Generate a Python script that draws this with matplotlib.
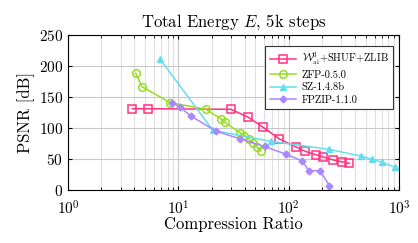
import matplotlib
matplotlib.use("Agg")
import matplotlib.pyplot as plt
from matplotlib.ticker import LogLocator, NullFormatter

plt.rcParams['font.family'] = 'serif'
plt.rcParams['font.serif'] = ['cmr10']
plt.rcParams['mathtext.fontset'] = 'cm'
plt.rcParams['axes.formatter.use_mathtext'] = True

# W_ai^3 + SHUF + ZLIB
w_cr = [3.83, 5.35, 29.9, 43.1, 58.6, 82.4, 116.7, 140.8, 176, 206, 254, 307, 355]
w_psnr = [131.1, 131.1, 130.2, 117.3, 101.2, 82.3, 69.4, 62.4, 56.9, 53.2, 48.4, 45.2, 43.0]

# ZFP-0.5.0
zfp_cr = [4.11, 4.69, 8.46, 17.8, 24.4, 26.5, 36.2, 39.4, 43.7, 47.6, 51.7, 55.6]
zfp_psnr = [188.2, 166.6, 140.8, 130.2, 114.5, 108.9, 92.4, 87.9, 82.3, 75.8, 69.4, 62.9]

# SZ-1.4.8b
sz_cr = [6.82, 20.5, 68.5, 232, 449, 570, 706, 918, 1150]
sz_psnr = [211.3, 96.5, 78.5, 65.6, 54.8, 49.5, 44.7, 36.6, 31.0]

# FPZIP-1.1.0
fp_cr = [8.77, 10.4, 13.1, 22.1, 36.0, 60.5, 93.7, 133, 152, 193, 234]
fp_psnr = [141.1, 133.1, 118.9, 94.7, 82.7, 70.2, 58.1, 46.8, 31.1, 31.1, 6.9]

labels = [r'$\mathcal{W}^3_{\mathrm{ai}}$+SHUF+ZLIB', 'ZFP-0.5.0', 'SZ-1.4.8b', 'FPZIP-1.1.0']

fig = plt.figure(figsize=(4.18, 2.43), dpi=100)
ax = fig.add_axes([68/418, 1 - 190/243, (399 - 68)/418, (190 - 35)/243])

ax.plot(w_cr, w_psnr, color='#ff3380', marker='s', markersize=5.5, markerfacecolor='none',
        markeredgewidth=1.1, lw=1.1, label=labels[0])
ax.plot(zfp_cr, zfp_psnr, color='#99dd22', marker='o', markersize=5.5, markerfacecolor='none',
        markeredgewidth=1.1, lw=1.1, label=labels[1])
ax.plot(sz_cr, sz_psnr, color='#66ddee', marker='^', markersize=4.5, lw=1.1, label=labels[2])
ax.plot(fp_cr, fp_psnr, color='#aa88ff', marker='D', markersize=3.5, lw=1.1, label=labels[3])

ax.set_xscale('log')
ax.set_xlim(1, 1000)
ax.set_ylim(0, 250)
ax.set_yticks([0, 50, 100, 150, 200, 250])
ax.xaxis.set_major_locator(LogLocator(base=10, numticks=10))
ax.xaxis.set_minor_locator(LogLocator(base=10, subs=range(2, 10), numticks=20))
ax.xaxis.set_minor_formatter(NullFormatter())
ax.grid(True, which='major', color='#c8c8c8', lw=0.8)
ax.grid(True, which='minor', axis='x', color='#e0e0e0', lw=0.8)
ax.set_axisbelow(True)
ax.tick_params(which='both', direction='in', top=True, right=True, labelsize=11, length=3)
ax.tick_params(axis='x', pad=7)
ax.tick_params(which='minor', length=2)
for s in ax.spines.values():
    s.set_linewidth(0.8)

ax.set_title(r'Total Energy $E$, 5k steps', fontsize=12, pad=6)
ax.set_xlabel('Compression Ratio', fontsize=12, labelpad=-1)
ax.set_ylabel('PSNR [dB]', fontsize=12, labelpad=3)

leg = ax.legend(loc='upper right', bbox_to_anchor=(0.997, 0.96), fontsize=7.5, frameon=True,
                fancybox=False, edgecolor='#333333', framealpha=1, handlelength=2.5,
                borderpad=0.4, labelspacing=0.3, handletextpad=0.6)
leg.get_frame().set_linewidth(0.8)

fig.savefig('out.png', dpi=100)
